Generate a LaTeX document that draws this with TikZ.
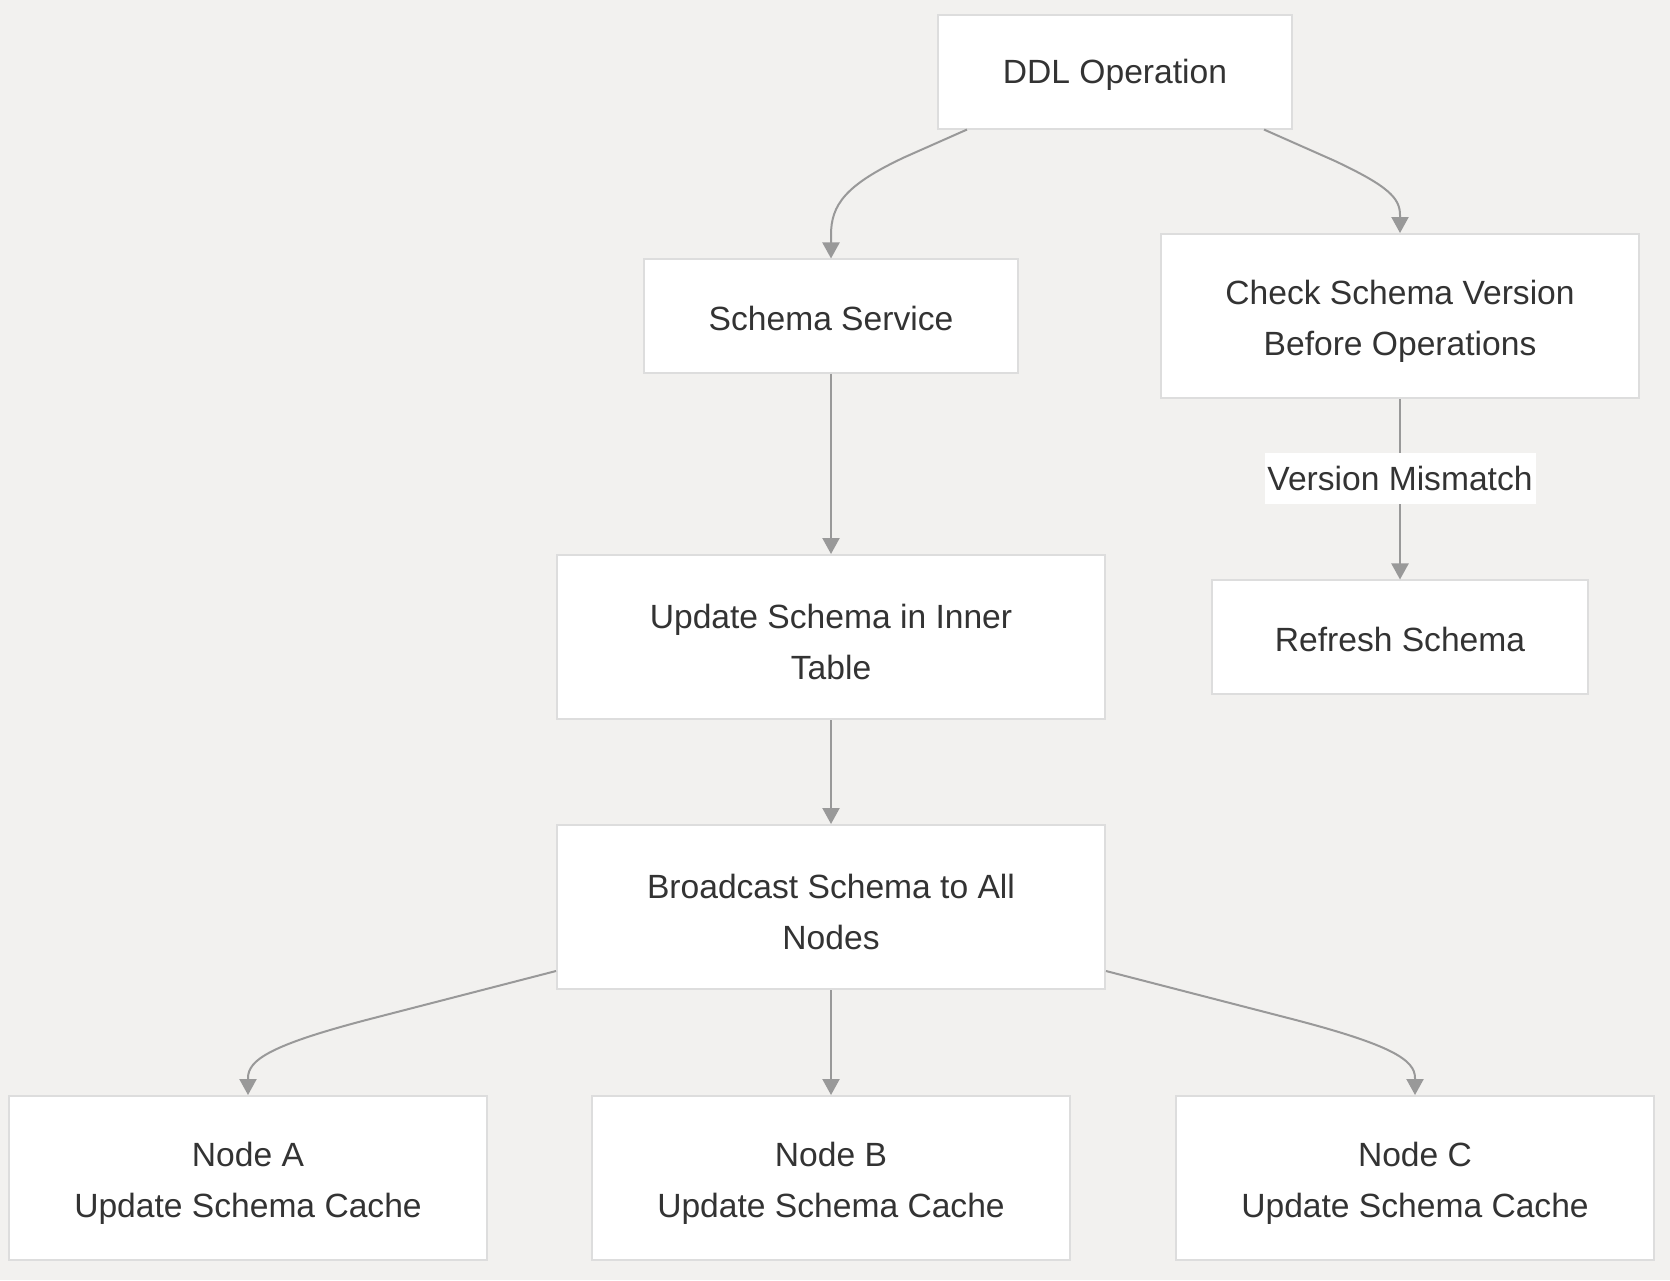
\documentclass[tikz,border=0pt]{standalone}
\usepackage{fontspec}
\setmainfont{Liberation Sans}
\usetikzlibrary{positioning,calc,arrows.meta}
\definecolor{canvas}{HTML}{F2F1EF}
\definecolor{boxline}{HTML}{DDDDDD}
\definecolor{ink}{HTML}{333333}
\definecolor{wire}{HTML}{999999}
\newcommand\toppad[1]{\rule{0pt}{#1}}
\tikzset{
  box/.style={draw=boxline, fill=white, line width=0.75pt, text=ink, align=center,
    inner sep=0pt, font=\fontsize{12.6}{19.1}\selectfont},
  flow/.style={draw=wire, line width=0.75pt, -{Triangle[length=6pt,width=6.4pt]}}
}
\begin{document}
\begin{tikzpicture}[x=0.375pt,y=-0.375pt]
  \fill[canvas] (0,0) rectangle (1670,1280);
  \useasboundingbox (0,0) rectangle (1670,1280);

  % boxes
  \node[box, minimum width=132.4pt, minimum height=42.4pt] (ddl) at (1115,72) {\toppad{11.2pt}DDL Operation};
  \node[box, minimum width=139.9pt, minimum height=42.4pt] (svc) at (831,316) {\toppad{11.2pt}Schema Service};
  \node[box, minimum width=179.3pt, minimum height=61.5pt] (check) at (1400,316) {\toppad{13pt}Check Schema Version\\Before Operations};
  \node[box, minimum width=141pt, minimum height=42.4pt] (refresh) at (1400,637) {\toppad{11.2pt}Refresh Schema};
  \node[box, minimum width=205.5pt, minimum height=61.5pt] (inner) at (831,637) {\toppad{13pt}Update Schema in Inner\\Table};
  \node[box, minimum width=205.5pt, minimum height=61.5pt] (bcast) at (831,907) {\toppad{13pt}Broadcast Schema to All\\Nodes};
  \node[box, minimum width=178.9pt, minimum height=61.5pt] (na) at (248,1178) {\toppad{13pt}Node A\\Update Schema Cache};
  \node[box, minimum width=178.9pt, minimum height=61.5pt] (nb) at (831,1178) {\toppad{13pt}Node B\\Update Schema Cache};
  \node[box, minimum width=178.9pt, minimum height=61.5pt] (nc) at (1415,1178) {\toppad{13pt}Node C\\Update Schema Cache};

  % connectors
  \draw[flow] ($(ddl.south)+(-148,0)$) -- (905,157) .. controls (845,185) and (831,205) .. (831,235) -- (svc.north);
  \draw[flow] ($(ddl.south)+(149,0)$) -- (1335,161) .. controls (1388,186) and (1400,198) .. (1400,215) -- (check.north);
  \draw[flow] (svc) -- (inner);
  \draw[flow] (inner) -- (bcast);
  \draw[flow] (check) -- node[pos=0.44, fill=white, text=ink, inner xsep=1.1pt, inner ysep=0pt, minimum height=19.1pt,
    font=\fontsize{12.6}{19.1}\selectfont] (vm) {Version Mismatch} (refresh);
  \draw[flow] ($(bcast.west)+(0,64)$) -- (370,1019) .. controls (270,1045) and (248,1060) .. (248,1078) -- (na.north);
  \draw[flow] (bcast) -- (nb);
  \draw[flow] ($(bcast.east)+(0,64)$) -- (1292,1019) .. controls (1392,1045) and (1415,1060) .. (1415,1078) -- (nc.north);
\end{tikzpicture}
\end{document}
